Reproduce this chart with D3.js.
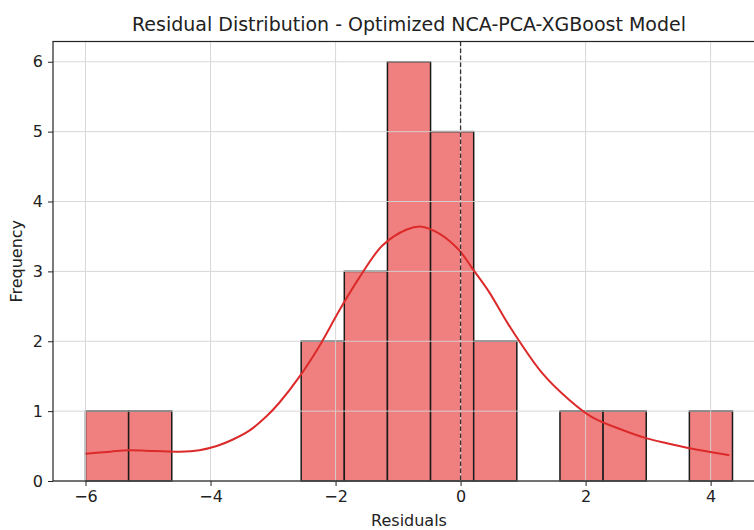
<html>
<head>
<title>Residual distribution</title>
<script src="https://d3js.org/d3.v7.min.js"></script>
<style>
body { margin: 0; background: #fff; font-family: 'DejaVu Sans', sans-serif; }
svg { display: block; }
.tick text { font-family: 'DejaVu Sans', sans-serif; }
</style>
</head>
<body>
<svg width="754" height="530"></svg>
<script>

// histogram bins (edges) and counts
var binEdges = [-6.00, -5.31, -4.62, -3.93, -3.24, -2.55, -1.86, -1.17, -0.48, 0.21, 0.90, 1.59, 2.28, 2.97, 3.66, 4.35];
var binCounts = [1, 1, 0, 0, 0, 2, 3, 6, 5, 2, 0, 1, 1, 0, 1];

// kde curve (scaled to counts)
var kdeX = [-6.00, -5.60, -5.31, -4.90, -4.50, -4.18, -3.90, -3.65, -3.38, -3.10, -2.90, -2.58, -2.26, -1.94, -1.62, -1.25, -0.86, -0.62, -0.34, -0.02, 0.19, 0.46, 0.78, 1.31, 1.74, 2.11, 2.59, 2.98, 3.30, 3.66, 4.30];
var kdeY = [0.39, 0.42, 0.44, 0.43, 0.42, 0.44, 0.50, 0.59, 0.72, 0.93, 1.12, 1.49, 1.93, 2.44, 2.91, 3.37, 3.60, 3.64, 3.54, 3.30, 3.04, 2.70, 2.22, 1.54, 1.16, 0.91, 0.73, 0.61, 0.54, 0.47, 0.37];

var xTicks = [-6, -4, -2, 0, 2, 4];
var yTicks = [0, 1, 2, 3, 4, 5, 6];

var svg = d3.select("svg");
// plot box (window.top is reserved, so names are prefixed)
var pLeft = 53, pRight = 765, pTop = 41.5, pBottom = 481;

var x = d3.scaleLinear().domain([-6.52, 4.87]).range([pLeft, pRight]);
var y = d3.scaleLinear().domain([0, 6.29]).range([pBottom, pTop]);

var bins = binCounts.map(function (c, i) { return { x0: binEdges[i], x1: binEdges[i + 1], n: c }; })
  .filter(function (d) { return d.n > 0; });

svg.selectAll("rect.bar").data(bins).enter().append("rect")
  .attr("class", "bar")
  .attr("x", function (d) { return x(d.x0); })
  .attr("width", function (d) { return x(d.x1) - x(d.x0); })
  .attr("y", function (d) { return y(d.n); })
  .attr("height", function (d) { return y(0) - y(d.n); })
  .attr("fill", "#f08080")
  .attr("stroke", "#1a1a1a")
  .attr("stroke-width", 1.5);

// grid on top of the bars
var grid = svg.append("g").attr("stroke", "#d4d4d4").attr("stroke-width", 1).attr("opacity", 0.9);
grid.selectAll("line.gx").data(xTicks).enter().append("line")
  .attr("x1", function (d) { return x(d); }).attr("x2", function (d) { return x(d); })
  .attr("y1", pTop).attr("y2", pBottom);
grid.selectAll("line.gy").data(yTicks).enter().append("line")
  .attr("y1", function (d) { return y(d); }).attr("y2", function (d) { return y(d); })
  .attr("x1", pLeft).attr("x2", pRight);

// kde
var line = d3.line().curve(d3.curveCatmullRom.alpha(0.5))
  .x(function (d) { return x(d[0]); })
  .y(function (d) { return y(d[1]); });
svg.append("path")
  .datum(d3.zip(kdeX, kdeY))
  .attr("d", line)
  .attr("fill", "none")
  .attr("stroke", "#dc2a2a")
  .attr("stroke-width", 2);

// zero line
svg.append("line")
  .attr("x1", x(0)).attr("x2", x(0))
  .attr("y1", pTop).attr("y2", pBottom)
  .attr("stroke", "#333")
  .attr("stroke-width", 1.3)
  .attr("stroke-dasharray", "4.5,2.5");

// axes
var xAxis = svg.append("g").attr("transform", "translate(0," + pBottom + ")")
  .call(d3.axisBottom(x).tickValues(xTicks).tickSize(5).tickPadding(5).tickFormat(d3.format("d")));
var yAxis = svg.append("g").attr("transform", "translate(" + pLeft + ",0)")
  .call(d3.axisLeft(y).tickValues(yTicks).tickSize(5).tickPadding(5).tickFormat(d3.format("d")));
[xAxis, yAxis].forEach(function (a) {
  a.select(".domain").remove();
  a.selectAll(".tick line").attr("stroke", "#222");
  a.selectAll(".tick text").attr("font-size", 16).attr("fill", "#222");
});
xAxis.selectAll(".tick text").text(function (d) { return d < 0 ? "\u2212" + Math.abs(d) : d; });

// spines
svg.append("rect")
  .attr("x", pLeft).attr("y", pTop)
  .attr("width", pRight - pLeft).attr("height", pBottom - pTop)
  .attr("fill", "none").attr("stroke", "#222").attr("stroke-width", 1.2);

// labels
svg.append("text")
  .attr("x", (pLeft + pRight) / 2).attr("y", 31)
  .attr("text-anchor", "middle")
  .attr("font-size", 19).attr("fill", "#222")
  .text("Residual Distribution - Optimized NCA-PCA-XGBoost Model");

svg.append("text")
  .attr("x", (pLeft + pRight) / 2).attr("y", 526)
  .attr("text-anchor", "middle")
  .attr("font-size", 16).attr("fill", "#222")
  .text("Residuals");

svg.append("text")
  .attr("transform", "translate(22," + ((pTop + pBottom) / 2) + ") rotate(-90)")
  .attr("text-anchor", "middle")
  .attr("font-size", 16).attr("fill", "#222")
  .text("Frequency");

</script>
</body>
</html>
